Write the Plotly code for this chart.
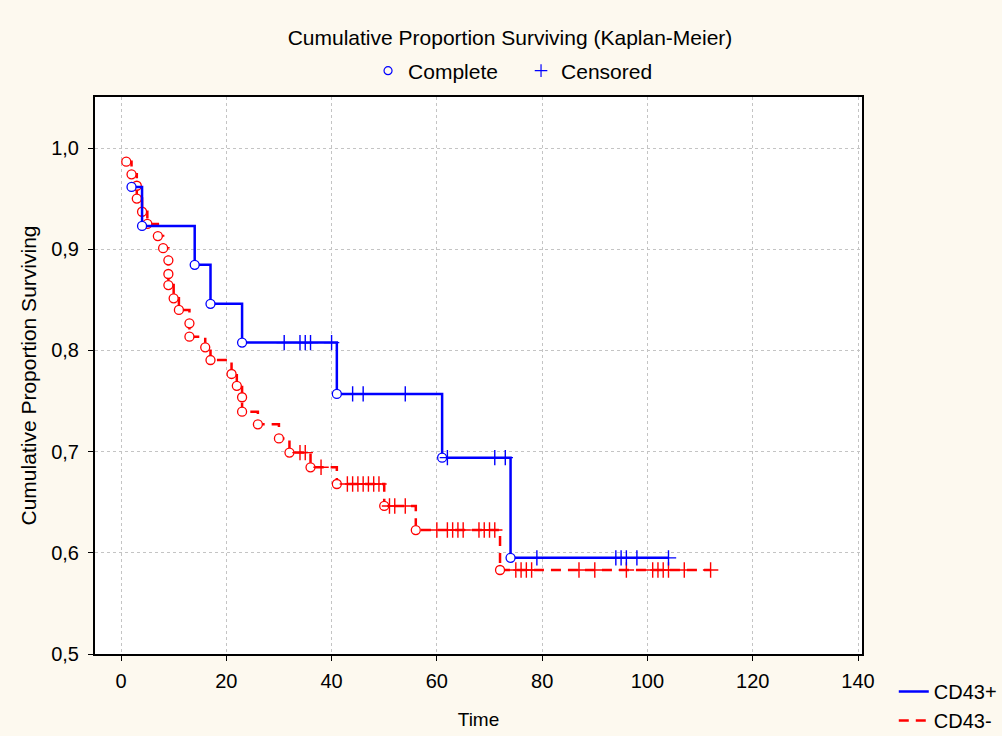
import plotly.graph_objects as go

# ---- data ----
# CD43+ (blue): event (complete) times and survival after each event
pos_event_t = [2, 4, 14, 17, 23, 41, 61, 74]
pos_event_s = [0.9615, 0.923, 0.8846, 0.846, 0.8077, 0.757, 0.694, 0.595]
pos_censor_t = [31, 34, 35, 36, 40, 44, 46, 54, 62, 71, 73, 79, 94, 95, 96, 98, 104]
pos_end_t = 104

# CD43- (red)
neg_event_t = [1, 2, 3, 3, 4, 5, 7, 8, 9, 9, 9, 10, 11, 13, 13, 16, 17, 21, 22,
               23, 23, 26, 30, 32, 36, 41, 50, 56, 72]
neg_event_s = [0.9865, 0.974, 0.9627, 0.950, 0.937, 0.925, 0.913, 0.901, 0.889,
               0.8755, 0.8646, 0.8515, 0.840, 0.8268, 0.8136, 0.803, 0.7905,
               0.7767, 0.765, 0.7537, 0.7395, 0.727, 0.713, 0.699, 0.6845,
               0.668, 0.6463, 0.6225, 0.583]
neg_censor_t = [34, 35, 38, 43, 44, 45, 46, 47, 48, 49, 51, 52, 54, 60, 62, 63, 64,
                65, 68, 69, 70, 71, 75, 76, 77, 78, 87, 90, 96, 101, 102, 103, 104,
                107, 112]
neg_end_t = 112

x_ticks = [0, 20, 40, 60, 80, 100, 120, 140]
y_ticks = [0.5, 0.6, 0.7, 0.8, 0.9, 1.0]

BLUE = "#0000FF"
RED = "#FF0000"
FONT = "Liberation Sans, Arial, sans-serif"


def surv_at(t, ev_t, ev_s):
    s = ev_s[0]
    for et, es in zip(ev_t, ev_s):
        if et <= t:
            s = es
    return s


fig = go.Figure()


def add_group(ev_t, ev_s, cens_t, end_t, color, dash, name):
    lx = list(ev_t) + [end_t]
    ly = list(ev_s) + [ev_s[-1]]
    fig.add_trace(go.Scatter(x=lx, y=ly, mode="lines", line_shape="hv",
                             line=dict(color=color, width=2.5, dash=dash),
                             name=name, legend="legend", showlegend=True,
                             hoverinfo="skip"))
    fig.add_trace(go.Scatter(x=ev_t, y=ev_s, mode="markers",
                             marker=dict(symbol="circle", size=9, color="white",
                                         line=dict(color=color, width=1.3)),
                             showlegend=False, hoverinfo="skip"))
    cy = [surv_at(t, ev_t, ev_s) for t in cens_t]
    fig.add_trace(go.Scatter(x=cens_t, y=cy, mode="markers",
                             marker=dict(symbol="cross-thin-open", size=11, color=color,
                                         line=dict(color=color, width=1.4)),
                             showlegend=False, hoverinfo="skip"))


add_group(neg_event_t, neg_event_s, neg_censor_t, neg_end_t, RED, "10px,7px", "CD43-")
add_group(pos_event_t, pos_event_s, pos_censor_t, pos_end_t, BLUE, "solid", "CD43+")

# top legend entries
fig.add_trace(go.Scatter(x=[None], y=[None], mode="markers", name="Complete",
                         marker=dict(symbol="circle-open", size=8, color=BLUE,
                                     line=dict(width=1.2, color=BLUE)),
                         legend="legend2"))
fig.add_trace(go.Scatter(x=[None], y=[None], mode="markers", name="Censored",
                         marker=dict(symbol="cross-thin-open", size=9, color=BLUE,
                                     line=dict(width=1.2, color=BLUE)),
                         legend="legend2"))

axis_common = dict(showline=True, linecolor="black", linewidth=2, mirror=True,
                   ticks="outside", ticklen=5, tickcolor="black", tickwidth=1,
                   showgrid=True, gridcolor="#c4c4c4", griddash="dot", gridwidth=1,
                   zeroline=False, automargin=False,
                   tickfont=dict(size=20, color="black", family=FONT))

fig.update_layout(
    width=1002, height=736,
    paper_bgcolor="#FDF9EF", plot_bgcolor="white",
    margin=dict(l=95, r=140, t=97, b=82),
    separators=",.",
    font=dict(family=FONT, size=20, color="black"),
    title=dict(text="Cumulative Proportion Surviving (Kaplan-Meier)",
               x=0.509, xanchor="center", y=1 - 38 / 736, yanchor="middle",
               font=dict(size=21, color="black", family=FONT)),
    xaxis=dict(range=[-4.94, 140.76], tickvals=x_ticks, ticklabelstandoff=3,
               title=dict(text="Time", standoff=22,
                          font=dict(size=19, family=FONT, color="black")),
               **axis_common),
    yaxis=dict(range=[0.5, 1.0504], tickvals=y_ticks, tickformat=".1f",
               ticklabelstandoff=5,
               title=dict(text="Cumulative Proportion Surviving", standoff=9,
                          font=dict(size=21, family=FONT, color="black")),
               **axis_common),
    legend=dict(xref="container", yref="container", x=0.892, y=1 - 672 / 736,
                xanchor="left", yanchor="top", bgcolor="rgba(0,0,0,0)",
                traceorder="reversed", font=dict(size=20, family=FONT),
                tracegroupgap=0),
    legend2=dict(xref="container", yref="container", x=0.52, y=1 - 71 / 736,
                 xanchor="center", yanchor="middle", orientation="h",
                 entrywidth=108,
                 bgcolor="rgba(0,0,0,0)", font=dict(size=21, family=FONT)),
    showlegend=True,
)

fig.write_html("out.html", config={"displayModeBar": False},
               post_script="document.body.style.margin='0';")
